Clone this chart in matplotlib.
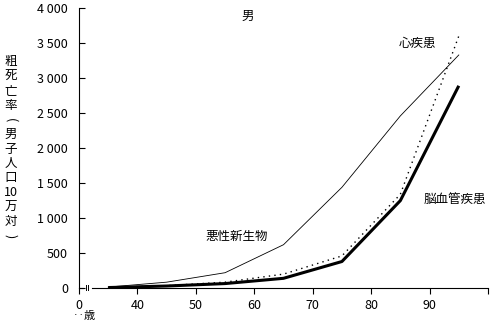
import matplotlib
matplotlib.use("Agg")
import matplotlib.pyplot as plt
from matplotlib.ticker import FuncFormatter

plt.rcParams['font.family'] = ['Noto Sans CJK JP', 'DejaVu Sans']

# 年齢階級の中央値と粗死亡率（男子人口10万対）
ages = [35, 45, 55, 65, 75, 85, 95]
neoplasm = [15, 85, 220, 620, 1440, 2460, 3330]
heart = [10, 35, 85, 200, 460, 1340, 3600]
cerebro = [8, 30, 65, 140, 380, 1250, 2890]

x_ticks = [30, 40, 50, 60, 70, 80, 90, 100]
x_labels = ["0", "40", "50", "60", "70", "80", "90", ""]
y_ticks = [0, 500, 1000, 1500, 2000, 2500, 3000, 3500, 4000]

# 縦書きの軸ラベル（括弧は回転して描く）
ylabel_chars = ["粗", "死", "亡", "率", "(", "男", "子", "人", "口", "10", "万", "対", ")"]

fig = plt.figure(figsize=(5.0, 3.23), dpi=100)
ax = fig.add_axes([0.158, 0.108, 0.818, 0.867])

ax.plot(ages, neoplasm, color="black", lw=0.6)
ax.plot(ages, heart, color="black", lw=1.0, linestyle=(0, (1, 3)))
ax.plot(ages, cerebro, color="black", lw=2.2, solid_capstyle="butt")

ax.set_xlim(30, 100)
ax.set_ylim(0, 4000)
ax.set_xticks(x_ticks)
ax.set_xticklabels(x_labels)
ax.set_yticks(y_ticks)
ax.yaxis.set_major_formatter(FuncFormatter(lambda v, p: f"{int(v):,}".replace(",", " ")))

for s in ["top", "right"]:
    ax.spines[s].set_visible(False)
ax.spines["left"].set_linewidth(0.8)
ax.spines["bottom"].set_linewidth(0.8)
ax.spines["bottom"].set_bounds(32.2, 100)
ax.tick_params(axis="y", direction="in", length=4, width=0.8, labelsize=9, pad=8)
ax.tick_params(axis="x", direction="out", length=4, width=0.8, labelsize=9, pad=4)

# 軸の省略記号
ax.plot([30, 30.7], [0, 0], color="black", lw=0.8, clip_on=False)
for bx in [31.2, 31.6]:
    ax.plot([bx, bx], [-25, 50], color="black", lw=0.7, clip_on=False)

ax.text(0.012, -0.10, "‥歳", transform=ax.transAxes, fontsize=8, ha="center", va="center")

ax.text(58.8, 3880, "男", fontsize=9, ha="center", va="center")
ax.text(88.0, 3500, "心疾患", fontsize=9, ha="center", va="center")
ax.text(57.0, 745, "悪性新生物", fontsize=9, ha="center", va="center")
ax.text(94.4, 1260, "脳血管疾患", fontsize=9, ha="center", va="center")

y0 = 1 - 62 / 323
step = 14.5 / 323
for i, ch in enumerate(ylabel_chars):
    rot = -90 if ch in "()" else 0
    fig.text(0.021, y0 - i * step, ch, fontsize=9, ha="center", va="center", rotation=rot)

fig.savefig("out.png", dpi=100)
